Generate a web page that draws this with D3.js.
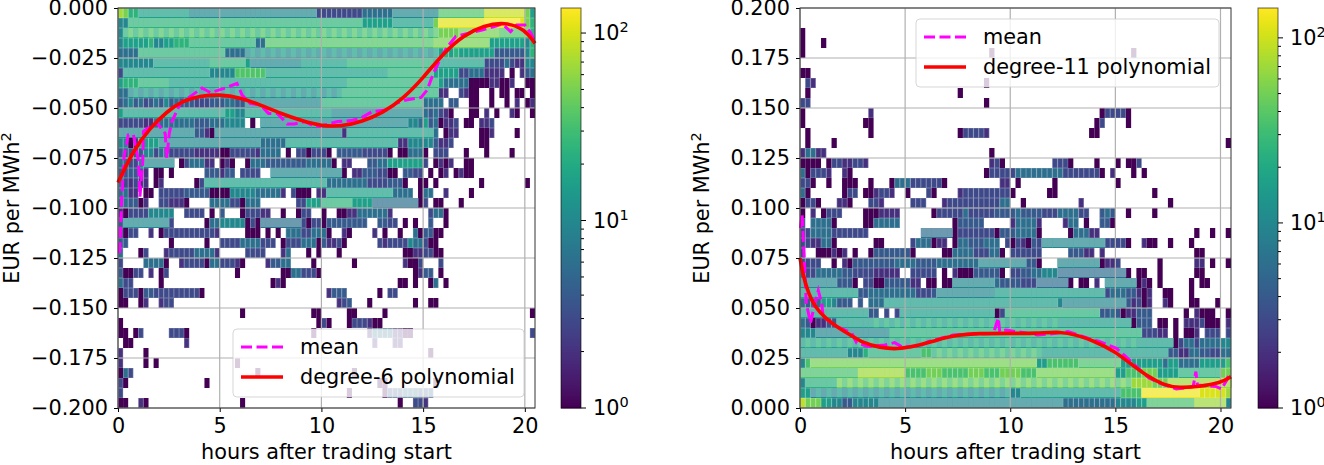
<!DOCTYPE html>
<html>
<head>
<meta charset="utf-8">
<script src="https://cdn.jsdelivr.net/npm/d3@7"></script>
<style>
  html, body { margin: 0; padding: 0; background: #fff; }
  svg { display: block; }
  text { font-family: "DejaVu Sans", sans-serif; fill: #000; }
</style>
</head>
<body>
<svg id="chart" width="1324" height="465"></svg>
<script>
// one letter = one count level, number = how many 15 min bins in a row, "." = empty bin
// two letters = counts that alternate from bin to bin
const levelLetters = "abcdefghijklmno";
const levelCounts = [1, 2, 2, 3, 4, 6, 10, 16, 24, 35, 50, 70, 90, 110, 130];

// rows go from top of the axes to the bottom
const rowsLeft = [
  "l1 k1 i2 h10 g25 d4 d5 f3 f3 g9 j9 m8 k1 h1",
  "g2 i46 h3 h3 h8 k1 n9 o7 n1 k1 i1",
  "g1 ij62 k4 k8 j6 i1",
  "g1 h5 i1 g2 h2 i3 i13 f2 j33 k11 h3 h4 g1 i1",
  "f4 i17 f4 gh38 hi4 h3 h4 e3 e3 g1 i1",
  "g3 g4 h11 i7 h1 g10 h9 i17 h10 d4 f1 d1 b2 g2",
  "d1 h17 g3 g2 j3 j3 h24 i9 h5 d2 f3 b1 c1 b2 .1 a1 .1 b1 e1 f1",
  "h1 i3 i6 h35 i18 h1 f2 f3 a4 c1 b1 a1 a1 b1 .2 a2",
  "f2 gh42 i19 c1 b1 .2 d1 c1 a2 .2 a1 .1 a2 .1 a2 .1 a1",
  "e1 f1 g1 e1 f1 d1 e1 f1 e1 g1 e1 f1 e3 d3 e3 f2 e2 g15 i20 f2 f2 .1 e2 .2 a2 .2 a1 .2 a1 .1 b1 .1 a1 c1",
  "h1 h20 h2 g2 h17 g18 f1 e1 f1 d1 b1 a1 .3 a2 .1 b1 .1 a1 .2 c1 a1 .2 a1",
  "d3 d2 b2 f2 f3 f3 e3 f3 g4 .1 a1 .1 g12 g17 g2 f1 h1 e1 f1 a1 c1 b1 d1 .1 a2 .1 b1 c1 d1 .8",
  "g15 e2 c1 a1 g25 b1 h17 f1 .1 a1 c2 .4 a2 b1 .4 a1 .3",
  "g2 a1 b1 i1 h3 g20 f2 f3 h22 c2 g5 e1 c2 d1 .5 a2 .9",
  "e3 e2 g2 d1 f2 d5 c5 a2 d5 c1 f2 f2 .1 a1 .1 d2 a1 d3 a1 .1 e5 d5 a1 .1 a2 f3 a1 .1 d3 .3 a1 .3 a1 .4 a1 .4",
  "f2 d2 g1 g6 .1 a1 d1 f3 c2 .1 a1 b1 a1 .2 a1 f3 e3 e5 f3 f2 a1 .1 c2 .3 e2 f2 h4 h3 d1 .1 a1 c1 a1 c1 .2 a2 .12",
  "e3 e2 c1 .1 a2 .1 a1 .6 e3 c1 e2 .1 d4 .2 g14 a1 .1 c2 e3 d2 a2 .1 e2 d2 .1 a1 .1 a1 c1 .1 a1 c1 a2 .12",
  "f1 d1 c1 d1 b2 .1 a1 c1 .6 a1 d1 h24 f4 f4 d4 e3 a1 .2 a1 a1 .1 a1 .8 a1 .8 a1 .1",
  "f2 c2 .1 a2 .1 d5 e5 a4 g5 f2 f3 c1 .1 d1 a3 .1 c2 h13 f2 f2 .1 a1 f2 .2 b1 .4 a1 .12",
  "f2 e2 a1 c1 .2 d2 c3 a1 .4 f2 f2 d2 a1 f3 .7 d2 h3 i6 h4 f9 a1 d1 .1 a2 .3 a1 .14",
  "c1 a1 d4 g5 .2 d4 .1 a1 .1 e1 .3 a1 d3 c2 .2 a1 .2 a1 d2 .2 a1 .2 a2 b1 c1 f3 f3 c1 .5 .2 d1 f2 a1 .17",
  "e1 g9 d1 .6 a1 f2 g5 a1 d1 a1 f8 d1 a1 d2 a1 e1 e4 e3 .2 e2 d2 .1 a1 .1 a1 .2 e1 .2 a1 .17",
  "d1 a1 d2 .2 b1 .1 a1 d5 d5 b1 .5 a2 a1 .1 a1 .1 a1 .1 f3 d2 f3 a1 .2 c1 a1 .4 c1 .1 a1 .2 a1 .2 f1 a1 e2 a2 .18",
  "e2 .8 a1 .6 a1 .2 d2 d2 f2 f2 d3 .1 a1 d3 f3 a1 e1 c2 d1 a1 .6 d1 b1 d3 d1 g1 f2 d1 a2 .19",
  "f1 .3 a1 d1 .3 c1 d5 f4 c1 .5 d2 d2 .3 c1 f1 .3 a1 .1 a1 .3 a1 .12 a2 c2 d2 a2 .18",
  "d1 .4 f2 f2 a1 .2 c1 d4 a1 f2 d3 c1 a1 .4 b1 e2 f2 .4 a1 .7 a1 .9 c1 a2 d1 .3 d1 .18",
  "e1 a2 d2 .1 b1 .1 a1 d1 .13 a1 .8 a2 f2 d3 a1 .18 a1 c1 e2 .1 a1 .18",
  "f1 d2 .5 a1 .21 a1 c1 a1 .22 a2 .1 a1 .2 a1 f1 .1 a1 .17",
  "a1 d3 a1 e2 d5 d4 a1 .24 c1 e3 .6 a1 .1 d2 .27",
  "a2 .2 a1 c1 .2 c1 d2 .32 c1 d1 e1 .3 a1 .8 a1 .2 a2 .19",
  ".24 a1 .13 a2 .5 a2 .5 a1 .28 a1",
  "a1 .38 a1 d1 a1 .3 a1 d3 c1 a2 .30",
  "a2 .1 a1 d1 .5 d3 a1 .24 a1 .10 b1 f2 f2 c2 a2 .23 d1",
  ".1 a2 .10 c1 .36 b1 .3 b2 .26",
  "c1 .4 a1 .55 a1 .20",
  "c1 .4 a1 .1 a1 .15 a1 .58",
  "a1 f1 d1 .24 a1 .18 a1 .35",
  "d1 a1 .15 a1 .33 a1 a1 .9 a1 .19",
  "d1 .44 a1 .6 a1 e3 f3 e3 .20",
  "a2 .2 c1 a1 .18 a1 .30 a1 .2 d2 b1 .21"
];

const rowsRight = [
  ".82",
  ".82",
  "a1 .81",
  "a1 .3 a1 .77",
  "a1 .35 a1 .26 a1 .18",
  ".82",
  "a2 .80",
  ".1 d1 c1 .32 a1 .46",
  ".1 a1 .28 a1 .51",
  "d2 .33 a1 .46",
  "a1 .12 c1 .43 a1 d4 a1 .19",
  "a1 .11 a2 .42 a1 d1 .4 a1 .19",
  ".1 a1 .11 a1 .16 a1 d4 c1 .19 a2 .25",
  ".1 a1 .4 a1 .74 a1",
  "c1 f2 c2 .31 a1 .45",
  "a4 .1 a1 d2 c2 d2 c1 .23 c1 d1 a1 .9 d3 a1 .4 a1 .3 a1 .1 a2 d1 .17",
  "f1 a1 d3 c1 .2 c1 a1 .25 a1 d5 f3 f4 f2 d3 d4 a1 .1 c1 .3 a1 .1 a1 .16",
  "d2 a1 .2 a1 .2 a3 .2 a1 .3 a1 f3 d3 d3 a1 .10 c2 .1 a1 .6 a1 .11 a1 .21",
  "f1 a1 .6 a1 d2 .1 a2 c1 d2 c1 .2 a1 .3 d1 a1 .4 c1 d4 d5 a1 .6 a2 .18 a1 .14",
  "a1 d2 a1 .3 c2 a1 .3 d2 c1 .5 d3 .3 c1 d5 d5 f2 .2 a1 .10 c1 .16 a1 .11",
  "a1 .1 c1 .1 a1 d3 .4 a3 c4 .6 a1 d5 f1 d5 e4 f1 e4 d3 f2 f2 d2 .2 e1 f1 e1 .2 a1 .4 a1 .14",
  "d1 .1 f2 f2 a1 .5 a2 f2 f3 .10 a1 e2 e3 .5 c1 f2 f2 c1 .4 c1 f2 .1 a1 .2 e2 a1 .17",
  "d2 f4 d3 d4 .10 f6 a1 d4 d3 a1 e3 f4 a1 .5 a1 f3 c2 .18 a1 .2 a1 .2 a1",
  "d2 c2 f2 a1 .7 a2 .5 d1 f3 a1 c2 .1 a1 f2 e3 f3 .1 d1 a1 d1 c1 a1 e1 d1 g12 d2 d2 a1 .2 c1 a2 .2 a1 .3 a1 .7",
  "d1 .2 a3 c1 a1 c1 .1 a1 .2 a1 e3 e4 a1 .5 a2 f4 d3 f2 a1 .1 d3 d3 .5 e3 c2 .1 c1 .17 a2 .5",
  "d4 .2 a1 .1 c1 a1 e4 e4 f4 e4 f4 f4 g9 e2 a1 .3 g8 a1 c2 d1 .7 a1 .6 c2 .1 a1 .2 a1",
  "f1 d2 f3 f2 e2 d1 d3 c5 .2 d5 .1 a1 .1 c1 a3 e5 a1 .1 d2 e2 f2 g3 f13 a1 .1 a2 .2 a1 .6 a2 .5",
  "g7 e3 a1 .1 d2 a2 e3 e2 c2 .1 a1 a1 .1 a2 g8 f1 e4 d3 f6 a1 .1 a1 a1 .1 c1 .1 g6 a1 c1 a1 .1 a1 .5 a1 .1 a2 .4",
  "h11 e2 f4 f5 d3 e1 g11 h21 d1 f3 e2 c1 a1 c1 .2 a2 .3 a1 .7",
  "f1 e1 f1 f1 h2 g1 e3 .1 e1 .1 f3 h33 g1 g12 e1 c1 d1 a1 c1 .2 b1 a1 .3 a2 .3 a1 .2",
  "h13 e2 .1 d1 .1 d1 h18 a1 d1 i18 e2 f1 e1 a1 c2 e3 .6 a1 .1 c1 a3 .2 a1",
  "f1 e1 a1 c2 e2 h6 hi37 h13 a1 e3 .1 a2 .1 a1 .1 c3 d1 a3 .1 c1",
  "g3 g14 i29 i19 d3 c2 .1 a1 .1 a2 c1 .1 d3 .1 d1",
  "hi64 h7 a1 d1 f2 d1 f2 f2 g2",
  "h9 g3 i1 i10 j2 ij21 h24 e2 c2 f2 e2 d2 f2",
  "g1 j1 k43 h2 j3 j3 j8 h4 h4 f1 h2 f2 f2 h5 j1",
  "j11 l9 j4 k3 j5 k3 j3 k4 j3 k15 h2 j3 k3 h4 i8 k2",
  "g1 i6 kj56 l4 k3 l6 l6",
  "h2 gh38 g2 h19 j4 o11 n2 n3 l1",
  "m1 k3 h2 g2 e2 g5 g35 f5 f5 g4 h2 j9 l6 g1"
];

const meanHoursLeft = [0.08, 0.18, 0.3, 0.5, 0.76, 1, 1.08, 1.22, 1.25, 1.58, 1.9, 2.32, 2.4, 2.52, 2.65, 3.06, 3.55, 4.13, 4.54, 5.28, 5.85, 6.1, 6.5, 7, 7.4, 7.83, 8.32, 8.65, 9.2, 9.7, 9.97, 10.8, 11.45, 11.95, 12.5, 13.2, 13.67, 14.16, 14.9, 15.2, 15.5, 15.9, 16.2, 16.6, 17.2, 17.9, 18.5, 18.9, 19.3, 19.6, 20, 20.3, 20.5];
const meanLeft = [-0.1226, -0.096, -0.0743, -0.0635, -0.0635, -0.076, -0.0943, -0.076, -0.0618, -0.0593, -0.0573, -0.0627, -0.075, -0.0627, -0.0568, -0.0477, -0.0443, -0.04, -0.0423, -0.04, -0.0377, -0.0435, -0.0477, -0.0485, -0.0527, -0.0527, -0.058, -0.058, -0.0568, -0.0593, -0.059, -0.0568, -0.0563, -0.055, -0.0518, -0.051, -0.0477, -0.046, -0.0447, -0.041, -0.0327, -0.0243, -0.0193, -0.0143, -0.0127, -0.011, -0.0093, -0.008, -0.0118, -0.0085, -0.0085, -0.0127, -0.0168];
const polyHoursLeft = [0, 0.76, 1.58, 2.4, 3.2, 4, 5, 6, 7, 8, 9, 10, 11, 12, 13, 14, 15, 16, 17, 18, 19, 20, 20.5];
const polyLeft = [-0.0873, -0.071, -0.06, -0.0518, -0.0463, -0.044, -0.0432, -0.0447, -0.0485, -0.0527, -0.0563, -0.059, -0.0592, -0.0568, -0.0525, -0.0455, -0.035, -0.0225, -0.0135, -0.0088, -0.007, -0.0105, -0.0177];

const meanHoursRight = [0.02, 0.1, 0.3, 0.5, 0.67, 0.87, 1.03, 1.1, 1.5, 1.9, 2.46, 2.7, 3.25, 4.04, 4.5, 4.9, 5.8, 6.1, 7.3, 8.2, 9.2, 9.43, 9.5, 9.8, 10.6, 11.3, 11.9, 12.75, 13.8, 14.26, 15.05, 15.5, 16, 16.6, 17.1, 17.9, 18.7, 18.83, 18.9, 19.8, 20.05, 20.3, 20.43];
const meanRight = [0.09, 0.097, 0.0525, 0.0425, 0.0507, 0.0587, 0.0525, 0.0457, 0.0425, 0.04, 0.0375, 0.0325, 0.0307, 0.0315, 0.0327, 0.0303, 0.0315, 0.0332, 0.0365, 0.037, 0.0373, 0.045, 0.0382, 0.039, 0.0377, 0.0365, 0.037, 0.0382, 0.0345, 0.0332, 0.0298, 0.0257, 0.0207, 0.015, 0.0125, 0.0095, 0.0107, 0.0182, 0.0115, 0.0107, 0.0095, 0.014, 0.0175];
const polyHoursRight = [0, 0.16, 0.4, 0.7, 1.2, 1.75, 2.4, 3, 3.8, 4.6, 5.55, 6.5, 7.45, 8.56, 9.8, 11.3, 12.4, 13.15, 13.95, 15, 15.7, 16.55, 17.3, 18, 19, 20, 20.5];
const polyRight = [0.075, 0.0657, 0.0575, 0.0507, 0.045, 0.0405, 0.0365, 0.0325, 0.0302, 0.0293, 0.031, 0.034, 0.0365, 0.0373, 0.0373, 0.0373, 0.0382, 0.0365, 0.0337, 0.0282, 0.0223, 0.0157, 0.0115, 0.01, 0.0107, 0.0125, 0.0157];

const hourTicks = [0, 5, 10, 15, 20];
const hourBin = 0.25;
const valueBin = 0.005;
const maxHour = 20.5;

const svg = d3.select("#chart");
const tickFormat = d3.format(".3f");
const minus = s => s.replace("-", "\u2212");
const fontPx = "20.8px";

// expands "d3 .2 hi6" into one entry per bin
function parseRow(row) {
  const bins = [];
  row.split(" ").forEach(tok => {
    const letters = tok.replace(/[0-9]/g, "");
    const n = +tok.replace(/[^0-9]/g, "");
    for (let i = 0; i < n; i++) {
      const ch = letters[i % letters.length];
      bins.push(ch === "." ? null : { count: levelCounts[levelLetters.indexOf(ch)], pale: n >= 6 });
    }
  });
  return bins;
}

function panel(opts) {
  const x = d3.scaleLinear().domain([0, maxHour]).range([opts.left, opts.right]);
  const y = d3.scaleLinear().domain(opts.yDomain).range([408, 8]);
  const color = d3.scaleSequentialLog(d3.interpolateViridis).domain([1, opts.vmax]);
  const yTicks = d3.range(0, 9).map(i => opts.yDomain[0] + (opts.yDomain[1] - opts.yDomain[0]) * i / 8);

  const cells = [];
  opts.rows.forEach((row, r) => {
    parseRow(row).forEach((b, c) => {
      if (b) cells.push({ r, c, count: b.count, pale: b.pale });
    });
  });

  const g = svg.append("g");
  const topOf = d => y(opts.yDomain[1] - d.r * valueBin);
  const rowH = Math.abs(y(0) - y(valueBin));

  g.append("g").selectAll("rect").data(cells).join("rect")
    .attr("x", d => x(d.c * hourBin))
    .attr("y", topOf)
    .attr("width", d => x((d.c + 1) * hourBin) - x(d.c * hourBin) + (d.pale ? 0.4 : 0))
    .attr("height", rowH)
    .attr("fill", d => color(d.count));

  // long runs look washed out in the original, short ones keep a thin seam
  g.append("g").selectAll("rect").data(cells.filter(d => d.pale)).join("rect")
    .attr("x", d => x(d.c * hourBin))
    .attr("y", topOf)
    .attr("width", d => x((d.c + 1) * hourBin) - x(d.c * hourBin) + 0.4)
    .attr("height", rowH - 1)
    .attr("fill", d => d3.interpolateRgb(color(d.count), "#fff")(0.3));

  g.append("g").selectAll("rect").data(cells.filter(d => !d.pale && d.count > 1)).join("rect")
    .attr("x", d => x(d.c * hourBin) + 0.3)
    .attr("y", d => topOf(d) + 0.3)
    .attr("width", d => x((d.c + 1) * hourBin) - x(d.c * hourBin) - 0.6)
    .attr("height", rowH - 0.6)
    .attr("fill", "none")
    .attr("stroke", "#fff")
    .attr("stroke-opacity", 0.22)
    .attr("stroke-width", 0.7);

  // grid
  const grid = g.append("g").attr("stroke", "#b0b0b0").attr("stroke-width", 1.2);
  grid.selectAll("line.v").data(hourTicks).join("line").attr("class", "v")
    .attr("x1", d => x(d)).attr("x2", d => x(d)).attr("y1", 8).attr("y2", 408);
  grid.selectAll("line.h").data(yTicks).join("line").attr("class", "h")
    .attr("x1", opts.left).attr("x2", opts.right).attr("y1", d => y(d)).attr("y2", d => y(d));

  // curves
  const line = d3.line().x(d => x(d[0])).y(d => y(d[1]));
  g.append("path").datum(d3.zip(opts.meanHours, opts.mean))
    .attr("d", line.curve(d3.curveLinear))
    .attr("fill", "none").attr("stroke", "#ff00ff")
    .attr("stroke-width", 3).attr("stroke-dasharray", "11 4.5");
  g.append("path").datum(d3.zip(opts.polyHours, opts.poly))
    .attr("d", line.curve(d3.curveBasis))
    .attr("fill", "none").attr("stroke", "#ff0000").attr("stroke-width", 3.6);

  // axes
  const axisX = g.append("g").attr("transform", "translate(0,408)")
    .call(d3.axisBottom(x).tickValues(hourTicks).tickSize(4).tickPadding(6));
  const axisY = g.append("g").attr("transform", `translate(${opts.left},0)`)
    .call(d3.axisLeft(y).tickValues(yTicks).tickSize(4).tickPadding(6).tickFormat(d => minus(tickFormat(d))));
  [axisX, axisY].forEach(a => {
    a.selectAll("text").style("font-size", fontPx).style("font-family", '"DejaVu Sans"');
    a.selectAll("line").attr("stroke", "#000");
    a.select(".domain").remove();
  });

  // spines
  g.append("rect").attr("x", opts.left).attr("y", 8)
    .attr("width", opts.right - opts.left).attr("height", 400)
    .attr("fill", "none").attr("stroke", "#333").attr("stroke-width", 1);

  g.append("text").attr("x", (opts.left + opts.right) / 2).attr("y", 459)
    .attr("text-anchor", "middle").style("font-size", fontPx)
    .text("hours after trading start");

  const yLabel = g.append("text")
    .attr("transform", `translate(${opts.labelX},208) rotate(-90)`)
    .attr("text-anchor", "middle").style("font-size", fontPx);
  yLabel.append("tspan").text("EUR per MWh");
  yLabel.append("tspan").attr("dy", -8).style("font-size", "14.5px").text("2");

  // legend
  const lg = g.append("g");
  lg.append("rect").attr("x", opts.legend.x).attr("y", opts.legend.y)
    .attr("width", opts.legend.w).attr("height", 68).attr("rx", 4)
    .attr("fill", "#fff").attr("fill-opacity", 0.8)
    .attr("stroke", "#ccc").attr("stroke-opacity", 0.8);
  [["mean", "#ff00ff", "11 4.5"], [opts.polyLabel, "#ff0000", null]].forEach((e, i) => {
    const ly = opts.legend.y + 18 + i * 30;
    lg.append("line").attr("x1", opts.legend.x + 8).attr("x2", opts.legend.x + 50)
      .attr("y1", ly).attr("y2", ly).attr("stroke", e[1]).attr("stroke-width", e[2] ? 3 : 3.6)
      .attr("stroke-dasharray", e[2]);
    lg.append("text").attr("x", opts.legend.x + 67).attr("y", ly + 7)
      .style("font-size", fontPx).text(e[0]);
  });

  // colorbar
  const cb = g.append("g");
  const cy = d3.scaleLog().domain([1, opts.vmax]).range([408, 8]);
  cb.selectAll("rect").data(d3.range(0, 400)).join("rect")
    .attr("x", opts.cbX).attr("width", 20)
    .attr("y", d => 8 + d).attr("height", 1.5)
    .attr("fill", d => color(cy.invert(8 + d + 0.5)));
  cb.append("rect").attr("x", opts.cbX).attr("y", 8).attr("width", 20).attr("height", 400)
    .attr("fill", "none").attr("stroke", "#000").attr("stroke-opacity", 0.6);
  const majors = [1, 10, 100];
  const minors = d3.range(2, 10).concat(d3.range(20, 100, 10));
  cb.selectAll("line.mi").data(minors).join("line").attr("class", "mi")
    .attr("x1", opts.cbX + 20).attr("x2", opts.cbX + 23)
    .attr("y1", d => cy(d)).attr("y2", d => cy(d)).attr("stroke", "#000");
  cb.selectAll("line.ma").data(majors).join("line").attr("class", "ma")
    .attr("x1", opts.cbX + 20).attr("x2", opts.cbX + 25)
    .attr("y1", d => cy(d)).attr("y2", d => cy(d)).attr("stroke", "#000");
  majors.forEach((m, i) => {
    const t = cb.append("text").attr("x", opts.cbX + 32).attr("y", cy(m) + 7).style("font-size", fontPx);
    t.append("tspan").text("10");
    t.append("tspan").attr("dy", -8).style("font-size", "14.5px").text(i);
  });
}

panel({
  left: 118, right: 535, yDomain: [-0.2, 0], rows: rowsLeft, vmax: 136,
  meanHours: meanHoursLeft, mean: meanLeft, polyHours: polyHoursLeft, poly: polyLeft,
  polyLabel: "degree-6 polynomial", legend: { x: 233, y: 329, w: 291 }, labelX: 19, cbX: 561
});
panel({
  left: 800, right: 1231, yDomain: [0, 0.2], rows: rowsRight, vmax: 145,
  meanHours: meanHoursRight, mean: meanRight, polyHours: polyHoursRight, poly: polyRight,
  polyLabel: "degree-11 polynomial", legend: { x: 916, y: 19, w: 303 }, labelX: 709, cbX: 1258
});
</script>
</body>
</html>
